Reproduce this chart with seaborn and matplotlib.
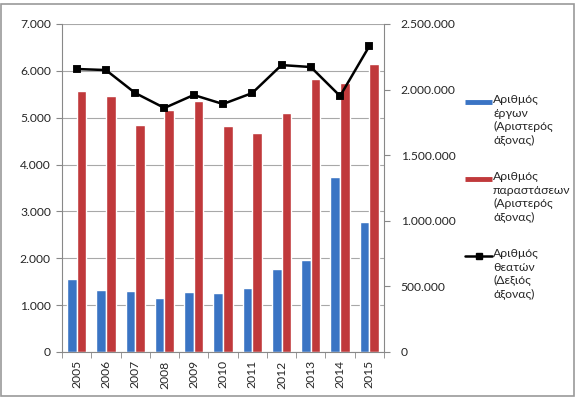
import matplotlib
matplotlib.use("Agg")
import matplotlib.pyplot as plt
import matplotlib.ticker as mticker
from matplotlib.lines import Line2D
from matplotlib.patches import Rectangle
import pandas as pd
import seaborn as sns

# Data
years = ['2005', '2006', '2007', '2008', '2009', '2010', '2011', '2012', '2013', '2014', '2015']
works = [1560, 1320, 1300, 1150, 1280, 1260, 1370, 1770, 1970, 3730, 2770]
performances = [5570, 5460, 4840, 5160, 5360, 4820, 4670, 5100, 5830, 5740, 6150]
spectators = [2157000, 2149000, 1974000, 1860000, 1959000, 1890000, 1974000, 2187000, 2172000, 1951000, 2332000]

lbl_works = 'Αριθμός\nέργων\n(Αριστερός\nάξονας)'
lbl_perf = 'Αριθμός\nπαραστάσεων\n(Αριστερός\nάξονας)'
lbl_spec = 'Αριθμός\nθεατών\n(Δεξιός\nάξονας)'

BLUE = '#3a74c4'
RED = '#c0393b'

sns.set_style('white')
plt.rcParams['font.family'] = ['Lato', 'DejaVu Sans']

bars = pd.DataFrame({
    'year': years * 2,
    'value': works + performances,
    'series': [lbl_works] * len(years) + [lbl_perf] * len(years),
})
line = pd.DataFrame({'year': years, 'value': spectators})

def dotted(x, pos):
    return f'{int(x):,}'.replace(',', '.')

fig = plt.figure(figsize=(5.78, 3.98), dpi=100)
W, H = 578, 398
ax = fig.add_axes([62 / W, (H - 352) / H, 322 / W, 328 / H])

sns.barplot(data=bars, x='year', y='value', hue='series', palette=[BLUE, RED],
            width=0.66, ax=ax, legend=False, saturation=1)
ax.set_ylim(0, 7000)
ax.yaxis.set_major_locator(mticker.MultipleLocator(1000))
ax.yaxis.set_major_formatter(mticker.FuncFormatter(dotted))
ax.grid(axis='y', color='#a8a8a8', linewidth=0.8)
ax.set_axisbelow(True)
ax.set_xlabel('')
ax.set_ylabel('')
ax.set_xlim(-0.5, len(years) - 0.5)
ax.tick_params(axis='x', rotation=90, labelsize=8.7, length=0, pad=6)
ax.tick_params(axis='y', labelsize=8.7, length=4, left=True, color='#888888', pad=4)
for s in ['top', 'right']:
    ax.spines[s].set_visible(False)
ax.spines['left'].set_color('#888888')
ax.spines['bottom'].set_color('#888888')
# ticks between categories on x axis
ax.set_xticks([i + 0.5 for i in range(-1, len(years))], minor=True)
ax.tick_params(axis='x', which='minor', length=4, bottom=True, color='#888888')

ax2 = ax.twinx()
sns.pointplot(data=line, x='year', y='value', color='black', markers='s',
              markersize=5, linewidth=1.8, ax=ax2)
ax2.set_ylim(0, 2500000)
ax2.yaxis.set_major_locator(mticker.MultipleLocator(500000))
ax2.yaxis.set_major_formatter(mticker.FuncFormatter(dotted))
ax2.set_ylabel('')
ax2.set_xlabel('')
ax2.set_xlim(-0.5, len(years) - 0.5)
ax2.tick_params(axis='y', labelsize=8.7, length=4, right=True, color='#888888', pad=8)
for s in ['top', 'left', 'bottom']:
    ax2.spines[s].set_visible(False)
ax2.spines['right'].set_color('#888888')

# legend at the right
entries = [(lbl_works, 'bar', BLUE, 102), (lbl_perf, 'bar', RED, 179), (lbl_spec, 'line', 'black', 256)]
for text, kind, col, ytop in entries:
    yh = (H - ytop) / H
    if kind == 'bar':
        fig.add_artist(Line2D([465 / W, 492 / W], [yh, yh], color=col, linewidth=3.5,
                              solid_capstyle='butt'))
    else:
        fig.add_artist(Line2D([465 / W, 492 / W], [yh, yh], color=col, linewidth=1.8))
        fig.add_artist(Line2D([478.5 / W], [yh], color=col, marker='s', markersize=4.5))
    fig.text(493 / W, (H - ytop + 8) / H, text, fontsize=8.8, va='top', ha='left',
             linespacing=1.28)

fig.add_artist(Rectangle((1 / W, 2 / H), 573 / W, 392 / H, fill=False,
                         edgecolor='#9a9a9a', linewidth=1.2))

fig.savefig('out.png', dpi=100)
